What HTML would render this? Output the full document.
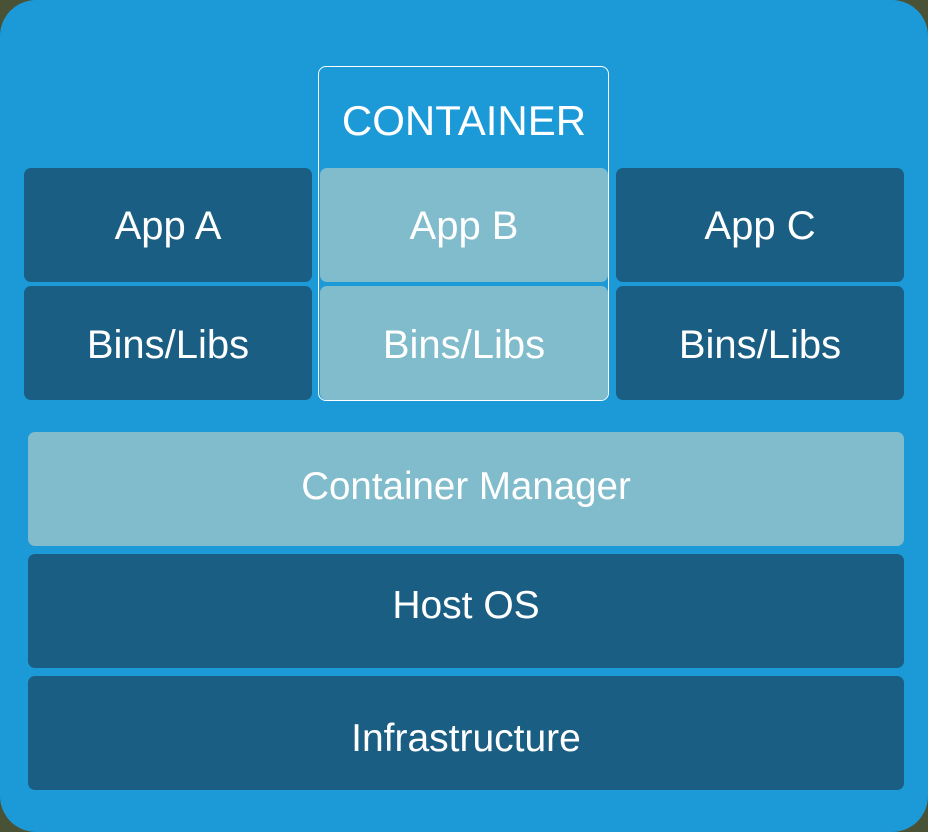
<!DOCTYPE html>
<html><head><meta charset="utf-8"><style>
html,body{margin:0;padding:0;}
body{width:928px;height:832px;background:#4a5236;position:relative;overflow:hidden;font-family:"Liberation Sans",sans-serif;}
.outer{position:absolute;left:0;top:0;width:928px;height:832px;background:#1b9ad7;border-radius:36px;}
.b{position:absolute;display:flex;align-items:center;justify-content:center;color:#fff;font-size:40px;border-radius:7px;}
.b span{display:block;position:relative;}
.d{background:#1a5f83;}
.l{background:#80bccb;}
.cont{position:absolute;left:318px;top:66px;width:289px;height:333px;border:1.5px solid #fff;border-radius:8px;}
.ct{position:absolute;left:318px;top:96px;width:292px;height:50px;line-height:50px;text-align:center;color:#fff;font-size:42px;}
.r1 span{top:1px;}
.r2 span{top:2.5px;}
</style></head><body>
<div class="outer"></div>
<div class="cont"></div>
<div class="ct">CONTAINER</div>
<div class="b d r1" style="left:24px;top:168px;width:288px;height:114px;"><span>App A</span></div>
<div class="b d r2" style="left:24px;top:286px;width:288px;height:114px;"><span>Bins/Libs</span></div>
<div class="b l r1" style="left:320px;top:168px;width:288px;height:114px;"><span>App B</span></div>
<div class="b l r2" style="left:320px;top:286px;width:288px;height:114px;"><span>Bins/Libs</span></div>
<div class="b d r1" style="left:616px;top:168px;width:288px;height:114px;"><span>App C</span></div>
<div class="b d r2" style="left:616px;top:286px;width:288px;height:114px;"><span>Bins/Libs</span></div>
<div class="b l" style="left:28px;top:432px;width:876px;height:114px;font-size:38.5px;"><span style="top:-2px;">Container Manager</span></div>
<div class="b d" style="left:28px;top:554px;width:876px;height:114px;font-size:39px;"><span style="top:-5.5px;">Host OS</span></div>
<div class="b d" style="left:28px;top:676px;width:876px;height:114px;font-size:39px;"><span style="top:5.5px;">Infrastructure</span></div>
</body></html>
